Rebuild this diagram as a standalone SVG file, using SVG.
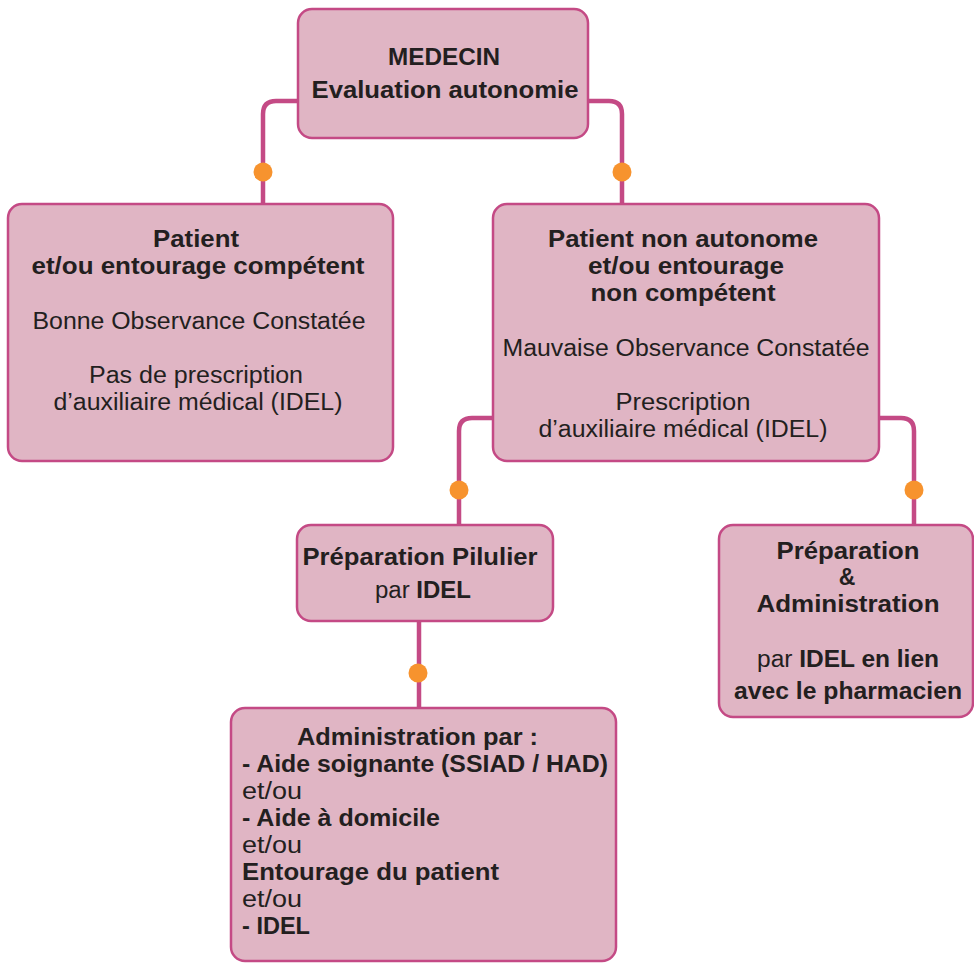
<svg xmlns="http://www.w3.org/2000/svg" width="974" height="963" viewBox="0 0 974 963">
<style>
.box{fill:#e0b5c4;stroke:#c44a85;stroke-width:2.5}
.con{fill:none;stroke:#c44a85;stroke-width:4.5}
.dot{fill:#f7932e}
text{font-family:"Liberation Sans","Open Sans",sans-serif;font-size:23px;fill:#231f20}
.b{font-weight:700}
.c{text-anchor:middle}
</style>
<rect width="974" height="963" fill="#ffffff"/>
<g id="connectors">
<path class="con" d="M298,101 H276 Q263,101 263,114 V204"/>
<path class="con" d="M588,101 H609 Q622,101 622,114 V204"/>
<path class="con" d="M493,418 H472 Q459,418 459,431 V525"/>
<path class="con" d="M879,418 H901 Q914,418 914,431 V525"/>
<path class="con" d="M419,621 V708"/>
<circle class="dot" cx="263" cy="172" r="9.5"/>
<circle class="dot" cx="622" cy="172" r="9.5"/>
<circle class="dot" cx="459" cy="490" r="9.5"/>
<circle class="dot" cx="914" cy="490" r="9.5"/>
<circle class="dot" cx="418" cy="673" r="9.5"/>
</g>
<g id="medecin">
<rect class="box" x="298" y="9" width="290" height="129" rx="14"/>
<text class="b c" x="444" y="65" textLength="112" lengthAdjust="spacingAndGlyphs">MEDECIN</text>
<text class="b c" x="445" y="98" textLength="267" lengthAdjust="spacingAndGlyphs">Evaluation autonomie</text>
</g>
<g id="patient-competent">
<rect class="box" x="8" y="204" width="385" height="257" rx="14"/>
<text class="b c" x="196" y="247" textLength="86" lengthAdjust="spacingAndGlyphs">Patient</text>
<text class="b c" x="198" y="274" textLength="333" lengthAdjust="spacingAndGlyphs">et/ou entourage compétent</text>
<text class="c" x="199" y="329" textLength="333" lengthAdjust="spacingAndGlyphs">Bonne Observance Constatée</text>
<text class="c" x="196" y="383" textLength="214" lengthAdjust="spacingAndGlyphs">Pas de prescription</text>
<text class="c" x="198" y="410" textLength="289" lengthAdjust="spacingAndGlyphs">d’auxiliaire médical (IDEL)</text>
</g>
<g id="patient-non-autonome">
<rect class="box" x="493" y="204" width="386" height="257" rx="14"/>
<text class="b c" x="683" y="247" textLength="270" lengthAdjust="spacingAndGlyphs">Patient non autonome</text>
<text class="b c" x="686" y="274" textLength="196" lengthAdjust="spacingAndGlyphs">et/ou entourage</text>
<text class="b c" x="683" y="301" textLength="185" lengthAdjust="spacingAndGlyphs">non compétent</text>
<text class="c" x="686" y="356" textLength="367" lengthAdjust="spacingAndGlyphs">Mauvaise Observance Constatée</text>
<text class="c" x="683" y="410" textLength="135" lengthAdjust="spacingAndGlyphs">Prescription</text>
<text class="c" x="683" y="437" textLength="289" lengthAdjust="spacingAndGlyphs">d’auxiliaire médical (IDEL)</text>
</g>
<g id="preparation-pilulier">
<rect class="box" x="297" y="525" width="256" height="96" rx="14"/>
<text class="b c" x="420" y="565" textLength="235" lengthAdjust="spacingAndGlyphs">Préparation Pilulier</text>
<text class="c" x="423" y="598" textLength="96" lengthAdjust="spacingAndGlyphs">par <tspan class="b">IDEL</tspan></text>
</g>
<g id="preparation-administration">
<rect class="box" x="719" y="525" width="254" height="192" rx="14"/>
<text class="b c" x="848" y="559" textLength="143" lengthAdjust="spacingAndGlyphs">Préparation</text>
<text class="b c" x="847" y="585">&amp;</text>
<text class="b c" x="848" y="612" textLength="183" lengthAdjust="spacingAndGlyphs">Administration</text>
<text class="c" x="848" y="667" textLength="182" lengthAdjust="spacingAndGlyphs">par <tspan class="b">IDEL en lien</tspan></text>
<text class="b c" x="848" y="699" textLength="228" lengthAdjust="spacingAndGlyphs">avec le pharmacien</text>
</g>
<g id="administration">
<rect class="box" x="231" y="708" width="385" height="253" rx="14"/>
<text class="b" x="297" y="745" textLength="241" lengthAdjust="spacingAndGlyphs">Administration par :</text>
<text class="b" x="242" y="772" textLength="366" lengthAdjust="spacingAndGlyphs">- Aide soignante (SSIAD / HAD)</text>
<text x="242" y="799" textLength="60" lengthAdjust="spacingAndGlyphs">et/ou</text>
<text class="b" x="242" y="826" textLength="198" lengthAdjust="spacingAndGlyphs">- Aide à domicile</text>
<text x="242" y="853" textLength="60" lengthAdjust="spacingAndGlyphs">et/ou</text>
<text class="b" x="242" y="880" textLength="257" lengthAdjust="spacingAndGlyphs">Entourage du patient</text>
<text x="242" y="907" textLength="60" lengthAdjust="spacingAndGlyphs">et/ou</text>
<text class="b" x="242" y="934" textLength="68" lengthAdjust="spacingAndGlyphs">- IDEL</text>
</g>
</svg>
